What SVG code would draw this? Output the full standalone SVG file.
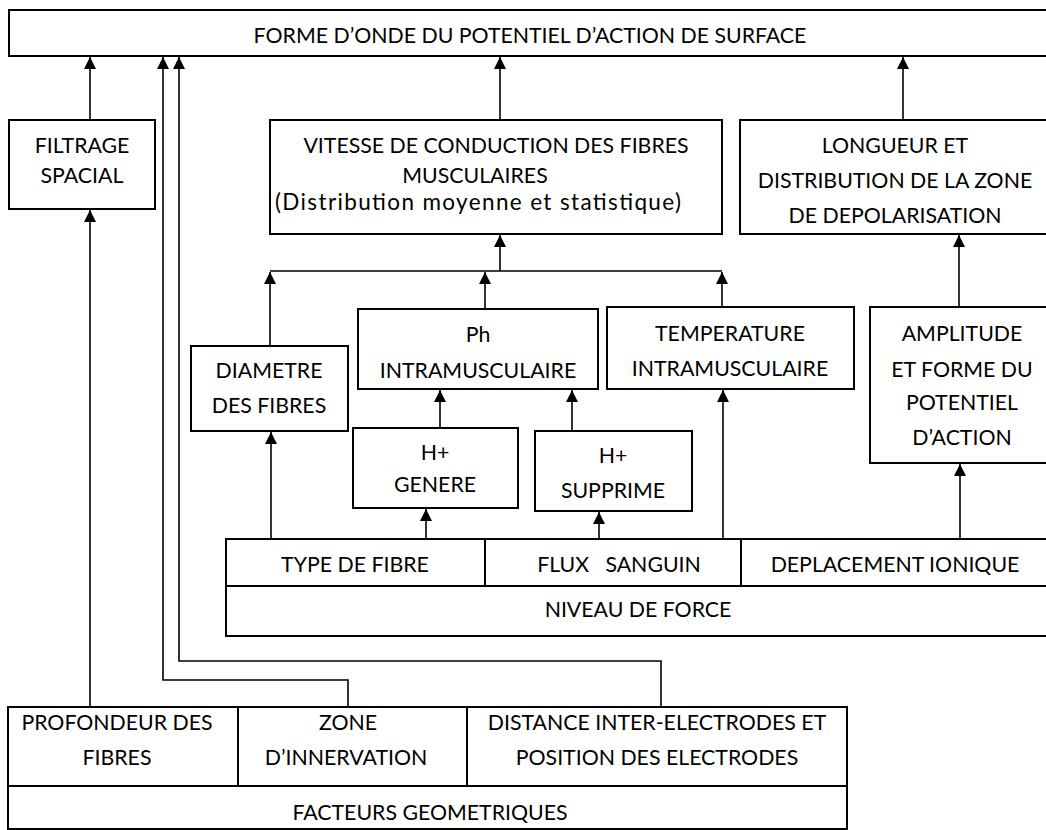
<svg xmlns="http://www.w3.org/2000/svg" width="1046" height="830" viewBox="0 0 1046 830">
<defs>
<marker id="ah" markerUnits="userSpaceOnUse" markerWidth="14" markerHeight="14" viewBox="0 0 14 14" refX="12" refY="7" orient="auto">
<path d="M0,1 L12,7 L0,13 Z" fill="#000"/>
</marker>
</defs>
<style>
.box{fill:#fff;stroke:#000;stroke-width:2}
.ln{fill:none;stroke:#000;stroke-width:1.6}
.t{font-family:Lato,"Open Sans","Liberation Sans",sans-serif;font-size:21.3px;fill:#000;text-anchor:middle}
.big{font-size:22.5px}
</style>
<rect width="1046" height="830" fill="#fff"/>
<g id="connectors">
<path class="ln" d="M90 120 V57" marker-end="url(#ah)"/>
<path class="ln" d="M90 707 V210" marker-end="url(#ah)"/>
<path class="ln" d="M348 707 V680 H163 V57" marker-end="url(#ah)"/>
<path class="ln" d="M661 707 V661 H179 V57" marker-end="url(#ah)"/>
<path class="ln" d="M500 120 V57" marker-end="url(#ah)"/>
<path class="ln" d="M903 120 V57" marker-end="url(#ah)"/>
<path class="ln" d="M270 271 H722"/>
<path class="ln" d="M500 271 V235" marker-end="url(#ah)"/>
<path class="ln" d="M270 346 V272" marker-end="url(#ah)"/>
<path class="ln" d="M485 309 V272" marker-end="url(#ah)"/>
<path class="ln" d="M722 307 V272" marker-end="url(#ah)"/>
<path class="ln" d="M959 307 V235" marker-end="url(#ah)"/>
<path class="ln" d="M440 428 V390" marker-end="url(#ah)"/>
<path class="ln" d="M572 431 V390" marker-end="url(#ah)"/>
<path class="ln" d="M271 539 V432" marker-end="url(#ah)"/>
<path class="ln" d="M426 539 V509" marker-end="url(#ah)"/>
<path class="ln" d="M599 539 V512" marker-end="url(#ah)"/>
<path class="ln" d="M723 539 V390" marker-end="url(#ah)"/>
<path class="ln" d="M960 539 V464" marker-end="url(#ah)"/>
</g>
<g id="forme">
<rect class="box" x="9" y="10" width="1042" height="46"/>
<text class="t" x="530" y="43">FORME D’ONDE DU POTENTIEL D’ACTION DE SURFACE</text>
</g>
<g id="filtrage">
<rect class="box" x="9" y="120" width="146" height="89"/>
<text class="t" x="82" y="153">FILTRAGE</text>
<text class="t" x="82" y="183">SPACIAL</text>
</g>
<g id="vitesse">
<rect class="box" x="270" y="120" width="452" height="114"/>
<text class="t" x="496" y="153">VITESSE DE CONDUCTION DES FIBRES</text>
<text class="t" x="475" y="183">MUSCULAIRES</text>
<text class="t big" x="478" y="210" textLength="406" lengthAdjust="spacing">(Distribution moyenne et statistique)</text>
</g>
<g id="longueur">
<rect class="box" x="740" y="120" width="311" height="114"/>
<text class="t" x="895" y="153">LONGUEUR ET</text>
<text class="t" x="895" y="188">DISTRIBUTION DE LA ZONE</text>
<text class="t" x="895" y="223">DE DEPOLARISATION</text>
</g>
<g id="diametre">
<rect class="box" x="191" y="346" width="157" height="85"/>
<text class="t" x="269" y="378">DIAMETRE</text>
<text class="t" x="269" y="413">DES FIBRES</text>
</g>
<g id="ph">
<rect class="box" x="358" y="309" width="240" height="80"/>
<text class="t" x="478" y="342">Ph</text>
<text class="t" x="478" y="378">INTRAMUSCULAIRE</text>
</g>
<g id="temperature">
<rect class="box" x="607" y="307" width="247" height="82"/>
<text class="t" x="730" y="341">TEMPERATURE</text>
<text class="t" x="730" y="376">INTRAMUSCULAIRE</text>
</g>
<g id="amplitude">
<rect class="box" x="870" y="307" width="181" height="156"/>
<text class="t" x="962" y="341">AMPLITUDE</text>
<text class="t" x="962" y="377">ET FORME DU</text>
<text class="t" x="962" y="410">POTENTIEL</text>
<text class="t" x="962" y="445">D’ACTION</text>
</g>
<g id="genere">
<rect class="box" x="353" y="428" width="165" height="80"/>
<text class="t" x="435" y="460">H+</text>
<text class="t" x="435" y="492">GENERE</text>
</g>
<g id="supprime">
<rect class="box" x="535" y="431" width="157" height="80"/>
<text class="t" x="613" y="463">H+</text>
<text class="t" x="613" y="498">SUPPRIME</text>
</g>
<g id="niveau">
<rect class="box" x="226" y="539" width="825" height="97"/>
<path class="box" d="M226 586 H1051 M485 539 V586 M741 539 V586"/>
<text class="t" x="355" y="572">TYPE DE FIBRE</text>
<text class="t" x="619" y="572" xml:space="preserve">FLUX   SANGUIN</text>
<text class="t" x="895" y="572">DEPLACEMENT IONIQUE</text>
<text class="t" x="638" y="617">NIVEAU DE FORCE</text>
</g>
<g id="facteurs">
<rect class="box" x="8" y="707" width="839" height="122"/>
<path class="box" d="M8 786 H847 M238 707 V786 M467 707 V786"/>
<text class="t" x="117" y="730">PROFONDEUR DES</text>
<text class="t" x="117" y="765">FIBRES</text>
<text class="t" x="348" y="730">ZONE</text>
<text class="t" x="346" y="765">D’INNERVATION</text>
<text class="t" x="657" y="730">DISTANCE INTER-ELECTRODES ET</text>
<text class="t" x="657" y="765">POSITION DES ELECTRODES</text>
<text class="t" x="430" y="820">FACTEURS GEOMETRIQUES</text>
</g>
</svg>
